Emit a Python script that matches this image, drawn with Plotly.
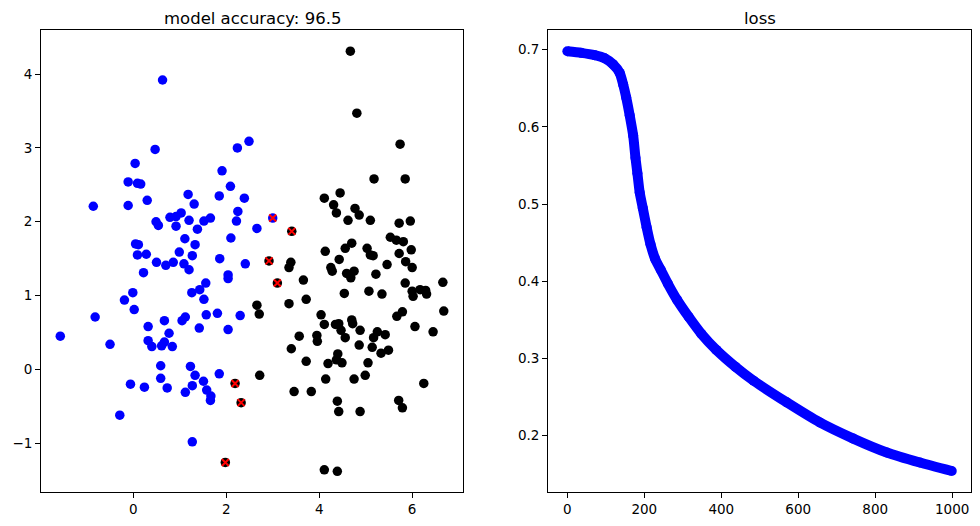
import plotly.graph_objects as go
from plotly.subplots import make_subplots

# class 0 (blue) points
blue_x = [0.63, 2.49, 2.24, 0.47, 0.04, 1.91, -0.11, 0.09, 0.16, 2.09, 1.18, 1.85, 2.39, -0.86, -0.11,
          0.30, 1.31, 2.25, 0.79, 1.03, 0.92, 0.49, 0.54, 0.92, 1.20, 1.52, 1.66, 1.38, 2.22, 2.66,
          1.11, 2.10, 0.05, 0.11, 1.33, 0.09, 0.28, 0.99, 1.27, 1.86, 2.41, 3.00,
          0.50, 0.70, 0.86, 1.09, 1.20, 0.22, 2.04, 2.04, 1.56, 1.43, 1.26, 1.52, -0.01, -0.19,
          0.02, -0.82, 0.67, 1.05, 1.12, 1.57, 1.81, 2.30, 0.32, 1.42, 2.04, 0.77, -1.57, -0.50,
          0.32, 0.40, 0.61, 0.67, 0.84, 0.59, 1.23, 1.33, 1.85, 0.59, -0.06, 0.24, 0.73, 1.27,
          1.51, 1.58, 1.12, 1.67, 1.66, -0.29, 1.27]
blue_y = [3.92, 3.09, 3.00, 2.98, 2.79, 2.69, 2.54, 2.52, 2.51, 2.48, 2.37, 2.35, 2.32, 2.21, 2.22,
          2.29, 2.24, 2.14, 2.06, 2.12, 2.07, 2.00, 1.95, 1.94, 2.02, 2.01, 2.05, 1.90, 2.01, 1.91,
          1.77, 1.78, 1.70, 1.69, 1.69, 1.55, 1.56, 1.59, 1.54, 1.50, 1.43, 2.05,
          1.45, 1.41, 1.45, 1.43, 1.35, 1.31, 1.28, 1.23, 1.17, 1.08, 1.04, 0.95, 1.04, 0.94,
          0.81, 0.71, 0.66, 0.66, 0.71, 0.74, 0.76, 0.73, 0.58, 0.56, 0.54, 0.49, 0.45, 0.34,
          0.39, 0.31, 0.32, 0.37, 0.31, 0.05, 0.04, -0.08, -0.06, -0.12, -0.20, -0.24, -0.25, -0.22,
          -0.16, -0.28, -0.31, -0.36, -0.42, -0.62, -0.98]

# class 1 (black) points
black_x = [4.67, 4.81, 5.74, 5.18, 5.85, 4.45, 4.11, 4.31, 4.37, 4.77, 4.86, 4.62, 5.10, 5.72, 5.96,
           5.53, 5.66, 5.81, 5.98, 4.13, 4.56, 4.70, 5.03, 5.10, 5.16, 5.72, 4.43, 5.46, 5.86, 3.39,
           3.35, 4.25, 4.28, 4.59, 4.75, 4.68, 5.22, 6.00, 3.66, 5.85, 6.66, 4.54, 5.07, 5.35, 6.00,
           6.02, 6.17, 6.29, 6.31, 3.35, 3.72, 2.66, 2.71, 6.68, 4.04, 4.11, 4.35, 4.42, 4.47, 4.56,
           4.70, 4.72, 4.88, 5.67, 5.79, 6.06, 6.45, 3.57, 3.95, 3.96, 5.25, 5.17, 5.42, 4.86, 5.14,
           5.33, 5.49, 3.40, 4.40, 4.19, 4.49, 4.37, 3.72, 5.05, 2.72, 4.14, 4.75, 4.99, 6.25, 3.46,
           3.83, 4.39, 4.42, 4.88, 5.71, 5.79, 4.11, 4.39,
           2.92, 3.41, 3.10, 2.19, 2.32, 1.98]
black_y = [4.31, 3.47, 3.05, 2.58, 2.58, 2.39, 2.32, 2.23, 2.12, 2.18, 2.09, 2.02, 2.02, 1.98, 2.01,
           1.79, 1.75, 1.73, 1.62, 1.60, 1.64, 1.71, 1.64, 1.55, 1.54, 1.57, 1.49, 1.42, 1.46, 1.45,
           1.38, 1.38, 1.33, 1.30, 1.33, 1.24, 1.29, 1.38, 1.21, 1.17, 1.18, 1.03, 1.06, 1.02, 1.06,
           0.99, 1.08, 1.07, 1.02, 0.89, 0.95, 0.87, 0.75, 0.79, 0.74, 0.61, 0.61, 0.62, 0.53, 0.43,
           0.67, 0.62, 0.53, 0.72, 0.78, 0.58, 0.51, 0.45, 0.46, 0.38, 0.51, 0.43, 0.47, 0.33, 0.30,
           0.22, 0.26, 0.28, 0.21, 0.08, 0.09, 0.13, 0.11, 0.09, -0.08, -0.13, -0.13, -0.08, -0.19, -0.30,
           -0.30, -0.43, -0.57, -0.57, -0.42, -0.52, -1.36, -1.38,
           1.47, 1.87, 1.17, -0.19, -0.45, -1.26]

# misclassified points
wrong_x = [3.00, 2.92, 3.41, 3.10, 2.19, 2.32, 1.98]
wrong_y = [2.05, 1.47, 1.87, 1.17, -0.19, -0.45, -1.26]

# loss
loss_epoch = [0, 36, 71, 97, 119, 136, 145, 153, 162, 171, 177, 182, 188, 196, 206, 216, 228, 243,
              261, 285, 315, 348, 387, 437, 484, 570, 656, 743, 830, 916, 999]
loss_value = [0.698, 0.696, 0.693, 0.689, 0.681, 0.670, 0.655, 0.638, 0.615, 0.589, 0.560, 0.540,
              0.515, 0.495, 0.470, 0.448, 0.429, 0.4145, 0.397, 0.376, 0.354, 0.332, 0.311, 0.289,
              0.271, 0.243, 0.217, 0.196, 0.178, 0.165, 0.154]

accuracy = 96.5
FONT = "DejaVu Sans"

# page body has an 8px margin, so the figure is shifted by that much
OFF = 8
FIG_W, FIG_H = 980 - OFF, 526 - 2 * OFF
L, T = 41 - OFF, 30.3 - OFF
R = FIG_W - (971.3 - OFF)
B = FIG_H - (491.7 - OFF)
W = FIG_W - L - R
H = FIG_H - T - B
title_y = 1 + (T - 0.5) / H   # titles hang from just below the figure top

fig = make_subplots(rows=1, cols=2)

fig.add_trace(go.Scatter(x=blue_x, y=blue_y, mode="markers",
                         marker=dict(color="#0000ff", size=9.5, line=dict(width=0))), row=1, col=1)
fig.add_trace(go.Scatter(x=black_x, y=black_y, mode="markers",
                         marker=dict(color="#000000", size=9.5, line=dict(width=0))), row=1, col=1)
fig.add_trace(go.Scatter(x=wrong_x, y=wrong_y, mode="markers",
                         marker=dict(symbol="x-thin", size=7,
                                     line=dict(color="#ff0000", width=2))), row=1, col=1)
fig.add_trace(go.Scatter(x=loss_epoch, y=loss_value, mode="lines+markers",
                         line=dict(color="#0000ff", width=10, shape="spline", smoothing=0.6),
                         marker=dict(color="#0000ff", size=10, line=dict(width=0))), row=1, col=2)

axis_style = dict(showline=True, mirror=True, linecolor="black", linewidth=1,
                  ticks="outside", ticklen=5, tickwidth=1, tickcolor="black",
                  showgrid=False, zeroline=False, automargin=False,
                  tickfont=dict(family=FONT, size=13.5, color="black"))

fig.update_xaxes(axis_style)
fig.update_yaxes(axis_style)

fig.update_layout(
    xaxis=dict(domain=[0, (463.3 - 41) / W], range=[-1.985, 7.097], tickvals=[0, 2, 4, 6]),
    yaxis=dict(domain=[0, 1], range=[-1.66, 4.597], tickvals=[-1, 0, 1, 2, 3, 4]),
    xaxis2=dict(domain=[(548.3 - 41) / W, 1], range=[-49.95, 1048.95],
                tickvals=[0, 200, 400, 600, 800, 1000]),
    yaxis2=dict(domain=[0, 1], range=[0.1268, 0.7256],
                tickvals=[0.2, 0.3, 0.4, 0.5, 0.6, 0.7], tickformat=".1f"),
    width=FIG_W, height=FIG_H,
    margin=dict(l=L, r=R, t=T, b=B),
    plot_bgcolor="white", paper_bgcolor="white",
    showlegend=False,
    annotations=[
        dict(text="model accuracy: " + str(accuracy), x=(463.3 - 41) / W / 2, y=title_y,
             xref="paper", yref="paper", showarrow=False, xanchor="center", yanchor="top",
             borderpad=0, font=dict(family=FONT, size=16.5, color="black")),
        dict(text="loss", x=((548.3 - 41) / W + 1) / 2, y=title_y,
             xref="paper", yref="paper", showarrow=False, xanchor="center", yanchor="top",
             borderpad=0, font=dict(family=FONT, size=16.5, color="black")),
    ],
)

fig.write_html("out.html")
